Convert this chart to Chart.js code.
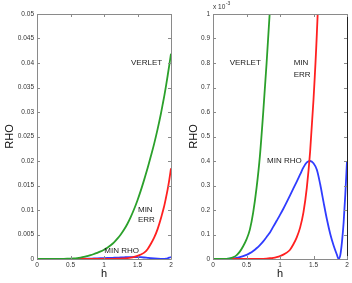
<!DOCTYPE html>
<html>
<head>
    <title>RHO vs h</title>
    <script src="https://cdn.jsdelivr.net/npm/chart.js"></script>
    <style>
        body { margin: 0; background: #fff; }
        canvas { position: absolute; top: 0; }
        #leftChart { left: 0; }
        #rightChart { left: 176px; }
    </style>
</head>
<body>
    <canvas id="leftChart" width="176" height="283"></canvas>
    <canvas id="rightChart" width="176" height="283"></canvas>

    <script>
        // step size h
        const hVals = [0, 0.05, 0.1, 0.15, 0.2, 0.25, 0.3, 0.35, 0.4, 0.45, 0.5, 0.55, 0.6, 0.65, 0.7, 0.75,
            0.8, 0.85, 0.9, 0.95, 1, 1.05, 1.1, 1.15, 1.2, 1.25, 1.3, 1.35, 1.4, 1.45, 1.5, 1.55, 1.6, 1.65,
            1.7, 1.75, 1.8, 1.85, 1.875, 1.9, 1.925, 1.95, 1.975, 2];
        // RHO values, in units of 1e-3
        const verlet = [0, 0, 0.00002, 0.0002, 0.0009, 0.0028, 0.007, 0.015, 0.03, 0.052, 0.08, 0.12, 0.19, 0.29,
            0.42, 0.6, 0.8, 1.02, 1.25, 1.55, 1.9, 2.3, 2.8, 3.4, 4.15, 5.0, 6.0, 7.2, 8.6, 10.2, 12.0, 14.0,
            16.2, 18.5, 21.0, 23.6, 26.5, 29.7, 31.5, 33.3, 35.3, 37.4, 39.6, 41.9];
        const minErr = [0, 0, 0, 0, 0, 0, 0, 0, 0, 0, 0, 0, 0, 0.0001, 0.0003, 0.0007, 0.0015, 0.003, 0.005,
            0.008, 0.012, 0.018, 0.026, 0.038, 0.06, 0.088, 0.128, 0.19, 0.29, 0.44, 0.65, 0.92, 1.3, 2.0,
            3.1, 4.4, 6.1, 8.3, 9.6, 10.9, 12.5, 14.2, 16.2, 18.5];
        const minRho = [0, 0, 0, 0.0002, 0.0006, 0.0015, 0.003, 0.005, 0.008, 0.012, 0.017, 0.024, 0.033, 0.044,
            0.057, 0.072, 0.09, 0.108, 0.132, 0.156, 0.18, 0.205, 0.232, 0.26, 0.288, 0.316, 0.345, 0.374,
            0.394, 0.4, 0.391, 0.364, 0.305, 0.232, 0.162, 0.102, 0.055, 0.017, 0, 0.016, 0.07, 0.15, 0.265, 0.40];

        const xTicks = [0, 0.5, 1, 1.5, 2];
        const leftYTicks = [0, 5, 10, 15, 20, 25, 30, 35, 40, 45, 50];
        const rightYTicks = [0, 0.1, 0.2, 0.3, 0.4, 0.5, 0.6, 0.7, 0.8, 0.9, 1];

        Chart.defaults.font.family = "'Liberation Sans', Arial, sans-serif";

        function pts(ys) {
            return hVals.map((h, i) => ({ x: h, y: ys[i] }));
        }

        function series(label, ys, color) {
            return {
                label: label,
                data: pts(ys),
                borderColor: color,
                borderWidth: 1.8,
                pointRadius: 0,
                fill: false,
                cubicInterpolationMode: 'monotone'
            };
        }

        // box and inward ticks, matlab style
        const boxPlugin = {
            id: 'box',
            afterDatasetsDraw(chart, args, opts) {
                const ctx = chart.ctx;
                const a = chart.chartArea;
                const x = chart.scales.x, y = chart.scales.y;
                ctx.save();
                ctx.lineWidth = 1;
                ctx.strokeStyle = '#8a8a8a';
                ctx.beginPath();
                ctx.moveTo(a.right + 0.5, a.bottom + 0.5);
                ctx.lineTo(a.left + 0.5, a.bottom + 0.5);
                ctx.lineTo(a.left + 0.5, a.top + 0.5);
                ctx.lineTo(a.right + 0.5, a.top + 0.5);
                ctx.stroke();
                ctx.strokeStyle = opts.rightColor;
                ctx.beginPath();
                ctx.moveTo(a.right + 0.5, a.top + 0.5);
                ctx.lineTo(a.right + 0.5, a.bottom + 0.5);
                ctx.stroke();
                ctx.strokeStyle = '#8a8a8a';
                ctx.beginPath();
                xTicks.forEach(v => {
                    const px = Math.round(x.getPixelForValue(v)) + 0.5;
                    ctx.moveTo(px, a.bottom); ctx.lineTo(px, a.bottom - 3);
                    ctx.moveTo(px, a.top); ctx.lineTo(px, a.top + 3);
                });
                opts.yTicks.forEach(v => {
                    const py = Math.round(y.getPixelForValue(v)) + 0.5;
                    ctx.moveTo(a.left, py); ctx.lineTo(a.left + 3, py);
                    ctx.moveTo(a.right, py); ctx.lineTo(a.right - 3, py);
                });
                ctx.stroke();

                ctx.fillStyle = '#222';
                ctx.font = "8px 'Liberation Sans', Arial, sans-serif";
                ctx.textAlign = 'left';
                ctx.textBaseline = 'middle';
                opts.notes.forEach(n => {
                    ctx.fillText(n.text, x.getPixelForValue(n.h), y.getPixelForValue(n.v));
                });
                if (opts.exponent) {
                    ctx.fillStyle = '#333';
                    ctx.font = "6.5px 'Liberation Sans', Arial, sans-serif";
                    ctx.fillText('x 10', a.left, a.top - 7);
                    const w = ctx.measureText('x 10').width;
                    ctx.font = "5px 'Liberation Sans', Arial, sans-serif";
                    ctx.fillText('-3', a.left + w + 0.5, a.top - 10);
                }
                ctx.restore();
            }
        };

        function makeChart(id, yMax, yStep, yFmt, yTicks, titlePad, notes, exponent, rightColor) {
            return new Chart(document.getElementById(id).getContext('2d'), {
                type: 'line',
                data: {
                    datasets: [
                        series('VERLET', verlet, '#2ba02b'),
                        series('MIN ERR', minErr, '#ff2020'),
                        series('MIN RHO', minRho, '#2f3cff')
                    ]
                },
                options: {
                    responsive: false,
                    animation: false,
                    devicePixelRatio: 1,
                    layout: { padding: { left: 0, top: 14, right: 5, bottom: 0 } },
                    plugins: {
                        legend: { display: false },
                        tooltip: { enabled: false },
                        box: { yTicks: yTicks, notes: notes, exponent: exponent, rightColor: rightColor }
                    },
                    scales: {
                        x: {
                            type: 'linear',
                            min: 0, max: 2,
                            grid: { display: false, drawTicks: false },
                            border: { display: false },
                            ticks: {
                                stepSize: 0.5, maxRotation: 0, autoSkip: false, padding: 2,
                                color: '#333', font: { size: 6.5 },
                                callback: v => String(v)
                            },
                            title: { display: true, text: 'h', color: '#111', font: { size: 11 }, padding: { top: 0, bottom: 2.5 } },
                            afterFit: s => { s.height = 24; }
                        },
                        y: {
                            min: 0, max: yMax,
                            grid: { display: false, drawTicks: false },
                            border: { display: false },
                            ticks: {
                                stepSize: yStep, autoSkip: false, padding: 3,
                                color: '#333', font: { size: 6.5 },
                                callback: yFmt
                            },
                            title: { display: true, text: 'RHO', color: '#111', font: { size: 11 }, padding: { top: titlePad, bottom: 0 } },
                            afterFit: s => { s.width = 37; }
                        }
                    }
                },
                plugins: [boxPlugin]
            });
        }

        makeChart('leftChart', 50, 5, v => String(+(v / 1000).toFixed(4)), leftYTicks, 3, [
            { text: 'VERLET', h: 1.403, v: 40.1 },
            { text: 'MIN', h: 1.507, v: 10.0 },
            { text: 'ERR', h: 1.507, v: 7.9 },
            { text: 'MIN RHO', h: 1.004, v: 1.6 }
        ], false, '#8a8a8a');

        makeChart('rightChart', 1, 0.1, v => String(Math.round(v * 10) / 10), rightYTicks, 11.4, [
            { text: 'VERLET', h: 0.249, v: 0.80 },
            { text: 'MIN', h: 1.204, v: 0.80 },
            { text: 'ERR', h: 1.204, v: 0.75 },
            { text: 'MIN RHO', h: 0.806, v: 0.40 }
        ], true, '#222');
    </script>
</body>
</html>
